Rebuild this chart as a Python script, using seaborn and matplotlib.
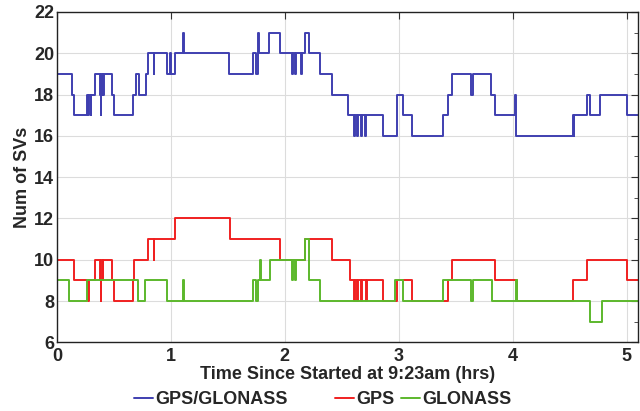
import pandas as pd
import numpy as np
import seaborn as sns
import matplotlib.pyplot as plt
from matplotlib.ticker import MultipleLocator

# step breakpoints (hours, number of satellites)
both_t = [0, 0.13, 0.15, 0.265, 0.275, 0.285, 0.295, 0.30, 0.33, 0.38, 0.385, 0.39, 0.395, 0.40,
          0.405, 0.41, 0.48, 0.50, 0.67, 0.69, 0.72, 0.78, 0.80, 0.85, 0.855, 0.97, 0.995, 1.00,
          1.035, 1.11, 1.115, 1.51, 1.72, 1.75, 1.76, 1.775, 1.86, 1.96, 2.06, 2.07, 2.09, 2.10,
          2.14, 2.15, 2.18, 2.21, 2.31, 2.41, 2.55, 2.61, 2.62, 2.63, 2.64, 2.665, 2.675, 2.70,
          2.71, 2.86, 2.98, 3.04, 3.12, 3.39, 3.43, 3.47, 3.635, 3.65, 3.81, 3.84, 4.02, 4.025,
          4.03, 4.53, 4.535, 4.54, 4.65, 4.68, 4.77, 5.0, 5.1]
both_v = [19, 18, 17, 18, 17, 18, 17, 18, 19, 18, 17, 19, 18, 19,
          18, 19, 18, 17, 18, 19, 18, 19, 20, 19, 20, 19, 20, 19,
          20, 21, 20, 19, 20, 19, 21, 20, 21, 20, 19, 20, 19, 20,
          19, 20, 21, 20, 19, 18, 17, 16, 17, 16, 17, 16, 17, 16,
          17, 16, 18, 17, 16, 17, 18, 19, 18, 19, 18, 17, 18, 17,
          16, 17, 16, 17, 18, 17, 18, 17, 17]

gps_t = [0, 0.15, 0.27, 0.285, 0.33, 0.38, 0.385, 0.39, 0.40, 0.405, 0.48, 0.50, 0.67, 0.68,
         0.80, 0.85, 0.855, 1.035, 1.52, 1.96, 2.18, 2.41, 2.57, 2.61, 2.62, 2.63, 2.645, 2.67,
         2.68, 2.71, 2.72, 2.86, 2.98, 3.12, 3.43, 3.47, 3.84, 4.04, 4.53, 4.65, 5.0, 5.1]
gps_v = [10, 9, 8, 9, 10, 9, 8, 10, 9, 10, 9, 8, 9, 10,
         11, 10, 11, 12, 11, 10, 11, 10, 9, 8, 9, 8, 9, 8,
         9, 8, 9, 8, 9, 8, 9, 10, 9, 8, 9, 10, 9, 9]

glo_t = [0, 0.11, 0.26, 0.71, 0.77, 0.97, 1.11, 1.115, 1.72, 1.75, 1.76, 1.78, 1.79, 1.87,
         2.06, 2.07, 2.09, 2.10, 2.18, 2.21, 2.215, 2.31, 2.97, 3.04, 3.39, 3.635, 3.65, 3.82,
         4.025, 4.035, 4.675, 4.78, 5.1]
glo_v = [9, 8, 9, 8, 9, 8, 9, 8, 9, 8, 9, 10, 9, 10,
         9, 10, 9, 10, 11, 10, 9, 8, 9, 8, 9, 8, 9, 8,
         9, 8, 7, 8, 8]

names = ["GPS/GLONASS", "GPS", "GLONASS"]
colors = ["#3f3fb0", "#f02020", "#5cb82c"]

df = pd.concat([
    pd.DataFrame({"t": both_t, "n": both_v, "sys": names[0]}),
    pd.DataFrame({"t": gps_t, "n": gps_v, "sys": names[1]}),
    pd.DataFrame({"t": glo_t, "n": glo_v, "sys": names[2]}),
])

sns.set_style("white")
plt.rcParams["font.family"] = ["Liberation Sans", "DejaVu Sans"]
plt.rcParams["font.weight"] = "bold"

fig = plt.figure(figsize=(6.4, 4.11), dpi=100)
ax = fig.add_axes([0.089, 0.167, 0.908, 0.804])

sns.lineplot(data=df, x="t", y="n", hue="sys", palette=dict(zip(names, colors)),
             drawstyle="steps-post", estimator=None, sort=False, linewidth=1.4, ax=ax,
             legend=False)

ax.set_xlim(0, 5.1)
ax.set_ylim(6, 22)
ax.xaxis.set_major_locator(MultipleLocator(1))
ax.yaxis.set_major_locator(MultipleLocator(2))
ax.yaxis.set_minor_locator(MultipleLocator(1))
ax.grid(True, which="major", color="#dcdcdc", linewidth=0.8)
ax.tick_params(which="both", direction="in", top=True, right=True, labelsize=13,
               color="#333333", pad=2)
ax.tick_params(axis="x", pad=4)
ax.tick_params(which="major", length=5)
ax.tick_params(which="minor", length=3)
for lab in ax.get_xticklabels() + ax.get_yticklabels():
    lab.set_fontweight("bold")
for s in ax.spines.values():
    s.set_color("#222222")
    s.set_linewidth(1.0)

ax.set_xlabel("Time Since Started at 9:23am (hrs)", fontsize=13, fontweight="bold", labelpad=1)
ax.set_ylabel("Num of SVs", fontsize=13, fontweight="bold", labelpad=2)

# legend: GPS/GLONASS on its own, GPS and GLONASS packed together
handles = [plt.Line2D([], [], color=c, linewidth=1.4) for c in colors]
leg_opts = dict(frameon=False, fontsize=13, handlelength=1.05, handletextpad=0.15,
                borderpad=0, borderaxespad=0, loc="center left")
fig.legend(handles[:1], names[:1], bbox_to_anchor=(0.209, 0.028), **leg_opts)
fig.legend(handles[1:], names[1:], ncol=2, columnspacing=0.35,
           bbox_to_anchor=(0.523, 0.028), **leg_opts)

fig.savefig("out.png", dpi=100)
